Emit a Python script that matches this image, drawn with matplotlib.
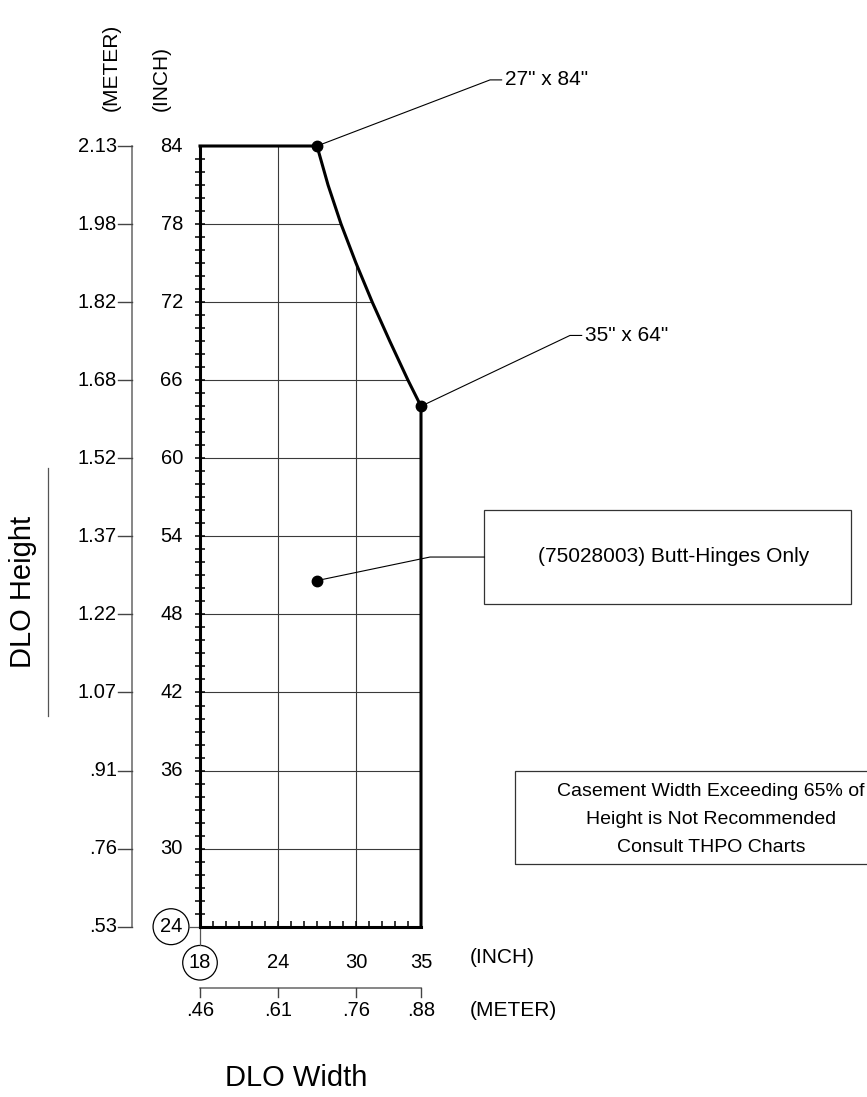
import numpy as np
import matplotlib
matplotlib.use('Agg')
from matplotlib import pyplot as plt
from matplotlib.patches import Circle, Rectangle

plt.rcParams['font.family'] = ['Liberation Sans', 'DejaVu Sans']

# axis labels (inch and meter)
width_in = [18, 24, 30, 35]
width_m = ['.46', '.61', '.76', '.88']
height_in = [24, 30, 36, 42, 48, 54, 60, 66, 72, 78, 84]
height_m = ['.53', '.76', '.91', '1.07', '1.22', '1.37', '1.52', '1.68', '1.82', '1.98', '2.13']

# size limit boundary (width, height in inches)
limit_w = [18, 27, 27.85, 28.85, 30.0, 31.25, 32.6, 34.0, 35, 35]
limit_h = [84, 84, 81, 78, 75, 72, 69, 66, 64, 24]

# labelled points
corner_w = [27, 35]
corner_h = [84, 64]
corner_txt = ['27" x 84"', '35" x 64"']
hinge_w, hinge_h = 27, 50.6
hinge_txt = '(75028003) Butt-Hinges Only'
note_lines = ['Casement Width Exceeding 65% of', 'Height is Not Recommended',
              'Consult THPO Charts']

grid_h = [30, 36, 42, 48, 54, 60, 66, 72, 78]
grid_v = [24, 30]

fig = plt.figure(figsize=(8.67, 10.97), dpi=100)
ax = fig.add_axes([200/867, (1097-926.7)/1097, 221/867, 780.7/1097])
ax.set_xlim(18, 35)
ax.set_ylim(24, 84)

for s in ['top', 'right']:
    ax.spines[s].set_visible(False)
for s in ['left', 'bottom']:
    ax.spines[s].set_linewidth(2.2)

ax.set_xticks(range(19, 35))
ax.set_yticks(range(25, 84))
ax.set_xticklabels([])
ax.set_yticklabels([])
ax.tick_params(axis='x', direction='in', length=4.5, width=1.1)
ax.tick_params(axis='y', direction='inout', length=7.5, width=1.1)

# grid clipped to the boundary
curve_h = limit_h[::-1]
curve_w = limit_w[::-1]
for g in grid_h:
    xe = np.interp(g, curve_h[1:], curve_w[1:])
    ax.plot([18, xe], [g, g], color='#3a3a3a', lw=0.8, zorder=1)
for g in grid_v:
    ye = np.interp(g, limit_w[1:-1], limit_h[1:-1]) if g > 27 else 84
    ax.plot([g, g], [24, ye], color='#3a3a3a', lw=0.8, zorder=1)

# boundary
ax.plot(limit_w, limit_h, color='black', lw=2.2, clip_on=False, zorder=3,
        solid_joinstyle='round')

fs = 14.5
# left inch labels
for v in height_in[1:]:
    ax.text(16.69, v, str(v), ha='right', va='center', fontsize=fs)
ax.add_patch(Circle((15.77, 24), 1.38, fill=False, lw=0.9, clip_on=False))
ax.text(15.77, 24, str(height_in[0]), ha='center', va='center', fontsize=fs)
ax.plot([17.15, 18], [24, 24], color='#555555', lw=0.9, clip_on=False)

# left meter scale
ax.plot([12.79, 12.79], [24, 84], color='#666666', lw=1.1, clip_on=False)
for v, m in zip(height_in, height_m):
    ax.plot([11.72, 12.79], [v, v], color='#444444', lw=1.0, clip_on=False)
    ax.text(11.6, v, m, ha='right', va='center', fontsize=fs)

ax.text(11.15, 86.67, '(METER)', rotation=90, ha='center', va='bottom', fontsize=15)
ax.text(15.0, 86.67, '(INCH)', rotation=90, ha='center', va='bottom', fontsize=15)

# bottom inch labels
for v in width_in[1:]:
    ax.text(v, 21.23, str(v), ha='center', va='center', fontsize=fs)
ax.add_patch(Circle((18, 21.23), 1.33, fill=False, lw=0.9, clip_on=False))
ax.text(18, 21.23, str(width_in[0]), ha='center', va='center', fontsize=fs)
ax.plot([18, 18], [22.56, 24], color='#555555', lw=0.9, clip_on=False)
ax.text(38.77, 21.6, '(INCH)', ha='left', va='center', fontsize=15)

# bottom meter scale
ax.plot([18, 35], [19.26, 19.26], color='#666666', lw=1.1, clip_on=False)
for v, m in zip(width_in, width_m):
    ax.plot([v, v], [19.26, 18.59], color='#444444', lw=1.0, clip_on=False)
    ax.text(v, 17.59, m, ha='center', va='center', fontsize=fs)
ax.text(38.77, 17.59, '(METER)', ha='left', va='center', fontsize=15)

# axis titles
ax.text(4.42, 49.75, 'DLO Height', rotation=90, ha='center', va='center', fontsize=21)
ax.plot([6.31, 6.31], [40.2, 59.28], color='#555555', lw=0.9, clip_on=False)
ax.text(25.38, 12.36, 'DLO Width', ha='center', va='center', fontsize=21)

# corner callouts
joints = [(40.31, 89.08, 41.2), (46.46, 69.44, 47.36)]
for w, h, t, (jx, jy, ex) in zip(corner_w, corner_h, corner_txt, joints):
    ax.plot([w, jx, ex], [h, jy, jy], color='black', lw=0.8, clip_on=False, zorder=4)
    ax.text(ex + 0.25, jy, t, ha='left', va='center', fontsize=15)
ax.plot(corner_w, corner_h, 'o', color='black', ms=7.5, clip_on=False, zorder=5)

# hinge callout
ax.plot([hinge_w, 35.69, 39.87], [hinge_h, 52.41, 52.41], color='black', lw=0.8,
        clip_on=False, zorder=4)
ax.plot([hinge_w], [hinge_h], 'o', color='black', ms=7.5, zorder=5)
ax.add_patch(Rectangle((39.87, 48.82), 28.18, 7.18, fill=False, ec='#333333',
                       lw=0.9, clip_on=False))
ax.text(54.46, 52.44, hinge_txt, ha='center', va='center', fontsize=15)

# note box
ax.add_patch(Rectangle((42.23, 28.82), 30, 7.18, fill=False, ec='#333333',
                       lw=0.9, clip_on=False))
for t, yy in zip(note_lines, [34.4, 32.25, 30.1]):
    ax.text(57.3, yy, t, ha='center', va='center', fontsize=14)

fig.savefig('out.png', dpi=100)
